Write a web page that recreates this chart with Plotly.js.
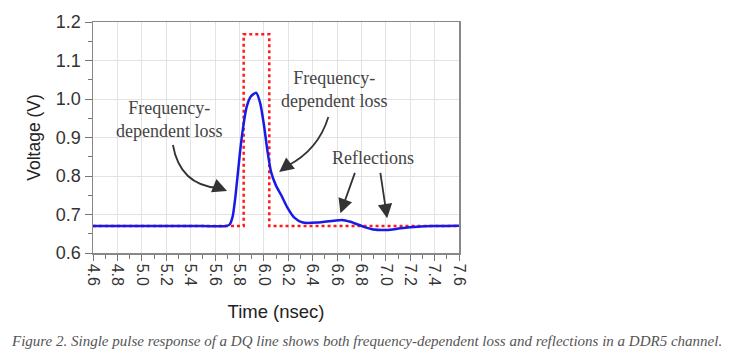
<!DOCTYPE html>
<html>
<head>
<meta charset="utf-8">
<script src="https://cdn.plot.ly/plotly-3.0.1.min.js"></script>
<style>html,body{margin:0;padding:0;background:#fff;}#chart{width:744px;height:362px;}</style>
</head>
<body>
<div id="chart"></div>
<script>
// Received signal (blue, solid)
const timeRx = [4.6, 5.0, 5.5, 5.69, 5.72, 5.745, 5.765, 5.785, 5.805, 5.83, 5.86, 5.895, 5.937, 5.97, 6.0, 6.03, 6.06, 6.1, 6.14, 6.19, 6.25, 6.32, 6.436, 6.573, 6.64, 6.71, 6.82, 6.90, 7.01, 7.12, 7.258, 7.39, 7.6];
const voltRx = [0.67, 0.67, 0.67, 0.67, 0.674, 0.695, 0.74, 0.80, 0.862, 0.925, 0.98, 1.007, 1.0165, 0.99, 0.935, 0.865, 0.81, 0.775, 0.752, 0.72, 0.692, 0.679, 0.679, 0.684, 0.686, 0.681, 0.668, 0.661, 0.660, 0.664, 0.668, 0.670, 0.671];
// Ideal single pulse (red, dotted)
const timePulse = [4.6, 5.835, 5.835, 6.045, 6.045, 7.6];
const voltPulse = [0.67, 0.67, 1.168, 1.168, 0.67, 0.67];
// Axis ticks
const xTicks = [4.6, 4.8, 5.0, 5.2, 5.4, 5.6, 5.8, 6.0, 6.2, 6.4, 6.6, 6.8, 7.0, 7.2, 7.4, 7.6];
const yTicks = [0.6, 0.7, 0.8, 0.9, 1.0, 1.1, 1.2];

const traces = [
  {x: timePulse, y: voltPulse, mode: 'lines', line: {color: '#ff1a1a', width: 2.5, dash: 'dot'}, hoverinfo: 'skip'},
  {x: timeRx, y: voltRx, mode: 'lines', line: {color: '#1a1ae6', width: 2.5, shape: 'spline', smoothing: 0.6}, hoverinfo: 'skip'}
];

const serif = {family: 'Liberation Serif, Times New Roman, serif', size: 18, color: '#444'};
const arrowColor = '#333';

const layout = {
  width: 744, height: 362,
  margin: {l: 93, r: 285, t: 22, b: 109},
  paper_bgcolor: '#fff', plot_bgcolor: '#fff',
  showlegend: false,
  font: {family: 'Liberation Sans, Arial, sans-serif', color: '#333'},
  xaxis: {
    range: [4.6, 7.6], tickvals: xTicks, ticktext: xTicks.map(v => v.toFixed(1)),
    tickangle: 90, tickfont: {size: 16, color: '#333'},
    ticks: 'outside', ticklen: 6, tickcolor: '#777', tickwidth: 1,
    minor: {dtick: 0.1, ticks: 'outside', ticklen: 4, tickcolor: '#777', showgrid: false},
    showline: true, linecolor: '#888', linewidth: 1.5, mirror: true,
    showgrid: true, gridcolor: '#e3e3e3', gridwidth: 1, zeroline: false,
    title: {text: 'Time (nsec)', font: {size: 18.5, color: '#222'}, standoff: 20}
  },
  yaxis: {
    range: [0.6, 1.2], tickvals: yTicks, ticktext: yTicks.map(v => v.toFixed(1)),
    tickfont: {size: 18, color: '#333'},
    ticks: 'outside', ticklen: 7, tickcolor: '#777', tickwidth: 1,
    minor: {dtick: 0.05, ticks: 'outside', ticklen: 4, tickcolor: '#777', showgrid: false},
    showline: true, linecolor: '#888', linewidth: 1.5, mirror: true,
    showgrid: true, gridcolor: '#e3e3e3', gridwidth: 1, zeroline: false,
    title: {text: 'Voltage (V)', font: {size: 17.5, color: '#222'}, standoff: 10}
  },
  shapes: [
    {type: 'path', xref: 'x', yref: 'y', path: 'M 5.255 0.8805 Q 5.313 0.7766 5.625 0.7688', line: {color: arrowColor, width: 1.8}},
    {type: 'path', xref: 'x', yref: 'y', path: 'M 6.529 0.9532 Q 6.447 0.8675 6.192 0.826', line: {color: arrowColor, width: 1.8}}
  ],
  annotations: [
    {x: 5.22, y: 0.948, xref: 'x', yref: 'y', text: 'Frequency-<br>dependent loss', showarrow: false, font: serif, xanchor: 'center', yanchor: 'middle'},
    {x: 6.575, y: 1.025, xref: 'x', yref: 'y', text: 'Frequency-<br>dependent loss', showarrow: false, font: serif, xanchor: 'center', yanchor: 'middle'},
    {x: 6.895, y: 0.847, xref: 'x', yref: 'y', text: 'Reflections', showarrow: false, font: serif, xanchor: 'center', yanchor: 'middle'},
    {x: 5.699, y: 0.761, xref: 'x', yref: 'y', ax: -10, ay: -4, text: '', showarrow: true, arrowhead: 2, arrowsize: 1.6, arrowwidth: 1.8, arrowcolor: arrowColor},
    {x: 6.126, y: 0.8104, xref: 'x', yref: 'y', ax: 9, ay: -7, text: '', showarrow: true, arrowhead: 2, arrowsize: 1.6, arrowwidth: 1.8, arrowcolor: arrowColor},
    {x: 6.628, y: 0.703, xref: 'x', yref: 'y', ax: 15, ay: -42, text: '', showarrow: true, arrowhead: 2, arrowsize: 1.6, arrowwidth: 1.8, arrowcolor: arrowColor},
    {x: 7.011, y: 0.690, xref: 'x', yref: 'y', ax: -7, ay: -47, text: '', showarrow: true, arrowhead: 2, arrowsize: 1.6, arrowwidth: 1.8, arrowcolor: arrowColor},
    {x: 0.746, y: -0.381, xref: 'paper', yref: 'paper', xanchor: 'center', yanchor: 'middle', showarrow: false,
     text: '<i>Figure 2. Single pulse response of a DQ line shows both frequency-dependent loss and reflections in a DDR5 channel.</i>',
     font: {family: 'Liberation Serif, Times New Roman, serif', size: 15, color: '#555'}}
  ]
};

Plotly.newPlot('chart', traces, layout, {staticPlot: true, displayModeBar: false});
</script>
</body>
</html>
